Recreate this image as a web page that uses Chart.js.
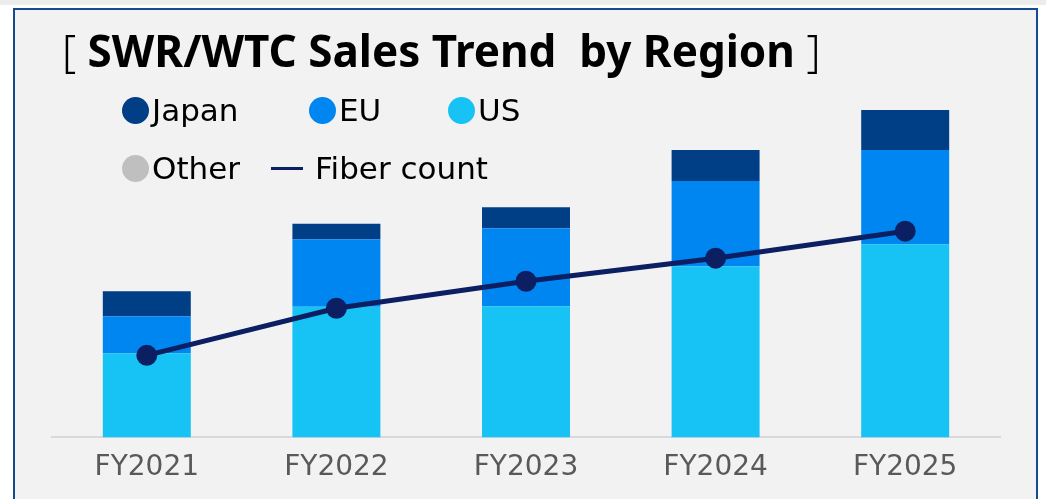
<!DOCTYPE html>
<html>
<head>
<meta charset="utf-8">
<script src="https://cdn.jsdelivr.net/npm/chart.js@4/dist/chart.umd.min.js"></script>
<style>
    html, body { margin: 0; padding: 0; background: #ffffff; }
    body { width: 1046px; height: 499px; position: relative; overflow: hidden; }
    #strip { position: absolute; left: 0; top: 0; width: 1046px; height: 5px; background: #ececec; }
    #marco { position: absolute; left: 13px; top: 8px; width: 1021px; height: 500px;
             border: 2px solid #134b93; border-bottom: none; background: #f2f2f2; }
    #grafico { position: absolute; left: 0; top: 0; }
    #titulo { position: absolute; left: 62px; top: 28px; font-family: "Noto Sans", sans-serif;
              font-size: 44px; line-height: 1; color: #000; white-space: pre; }
    #titulo b { font-weight: 700; }
    #titulo span { font-weight: 300; }
    .leyenda { position: absolute; height: 28px; display: flex; align-items: center;
               font-family: "DejaVu Sans", sans-serif; font-size: 31px; color: #000; white-space: pre; }
    .punto { width: 27px; height: 27px; border-radius: 50%; margin-right: 3px; }
    .raya { width: 32px; height: 3px; margin-right: 12px; }
</style>
</head>
<body>
<div id="strip"></div>
<div id="marco"></div>
<canvas id="grafico" width="1046" height="499"></canvas>
<div id="titulo"><span>[</span> <b>SWR/WTC Sales Trend  by Region</b> <span>]</span></div>

<script>
// Datos del gráfico (valores relativos).
const CATEGORIAS = ['FY2021', 'FY2022', 'FY2023', 'FY2024', 'FY2025'];
const VENTAS_US = [84, 130.5, 131, 171, 193];
const VENTAS_EU = [37, 67.5, 78, 85, 94];
const VENTAS_JAPON = [25, 15.5, 21, 31, 40];
const VENTAS_OTRO = [0, 0, 0, 0, 0];
const FIBRAS = [82, 129, 156, 179, 206];

// Colores de cada serie.
const COLOR_JAPON = '#003e85';
const COLOR_EU = '#0086f0';
const COLOR_US = '#17c2f4';
const COLOR_OTRO = '#bfbfbf';
const COLOR_FIBRA = '#0c1f63';

const barra = (label, data, color) => ({
    type: 'bar',
    label: label,
    data: data,
    backgroundColor: color,
    stack: 'ventas',
    order: 1,
    categoryPercentage: 1,
    barPercentage: 0.464
});

const grafico = new Chart(document.getElementById('grafico'), {
    data: {
        labels: CATEGORIAS,
        datasets: [
            barra('US', VENTAS_US, COLOR_US),
            barra('EU', VENTAS_EU, COLOR_EU),
            barra('Japan', VENTAS_JAPON, COLOR_JAPON),
            barra('Other', VENTAS_OTRO, COLOR_OTRO),
            {
                type: 'line',
                label: 'Fiber count',
                data: FIBRAS,
                borderColor: COLOR_FIBRA,
                backgroundColor: COLOR_FIBRA,
                borderWidth: 5,
                pointRadius: 8,
                pointHoverRadius: 8,
                tension: 0,
                order: 0
            }
        ]
    },
    options: {
        responsive: false,
        animation: false,
        layout: { padding: { left: 52, right: 46, top: 100, bottom: 0 } },
        plugins: {
            legend: { display: false },
            title: { display: false },
            tooltip: { enabled: false }
        },
        scales: {
            x: {
                stacked: true,
                grid: { display: false, drawTicks: false },
                border: { display: true, color: '#d9d9d9', width: 2 },
                ticks: {
                    color: '#595959',
                    padding: 14,
                    font: { family: 'DejaVu Sans', size: 28 }
                }
            },
            y: {
                stacked: true,
                display: false,
                min: 0,
                max: 337
            }
        }
    }
});

// Leyenda en HTML con la misma distribución que la imagen.
const POSICIONES_LEYENDA = [
    { label: 'Japan', x: 122, y: 96 },
    { label: 'EU', x: 309, y: 96 },
    { label: 'US', x: 448, y: 96 },
    { label: 'Other', x: 122, y: 154 },
    { label: 'Fiber count', x: 271, y: 154 }
];
POSICIONES_LEYENDA.forEach(pos => {
    const ds = grafico.data.datasets.find(d => d.label === pos.label);
    const item = document.createElement('div');
    item.className = 'leyenda';
    item.style.left = pos.x + 'px';
    item.style.top = pos.y + 'px';
    const marca = document.createElement('div');
    marca.className = ds.type === 'line' ? 'raya' : 'punto';
    marca.style.background = ds.type === 'line' ? ds.borderColor : ds.backgroundColor;
    item.appendChild(marca);
    item.appendChild(document.createTextNode(ds.label));
    document.body.appendChild(item);
});
</script>
</body>
</html>
